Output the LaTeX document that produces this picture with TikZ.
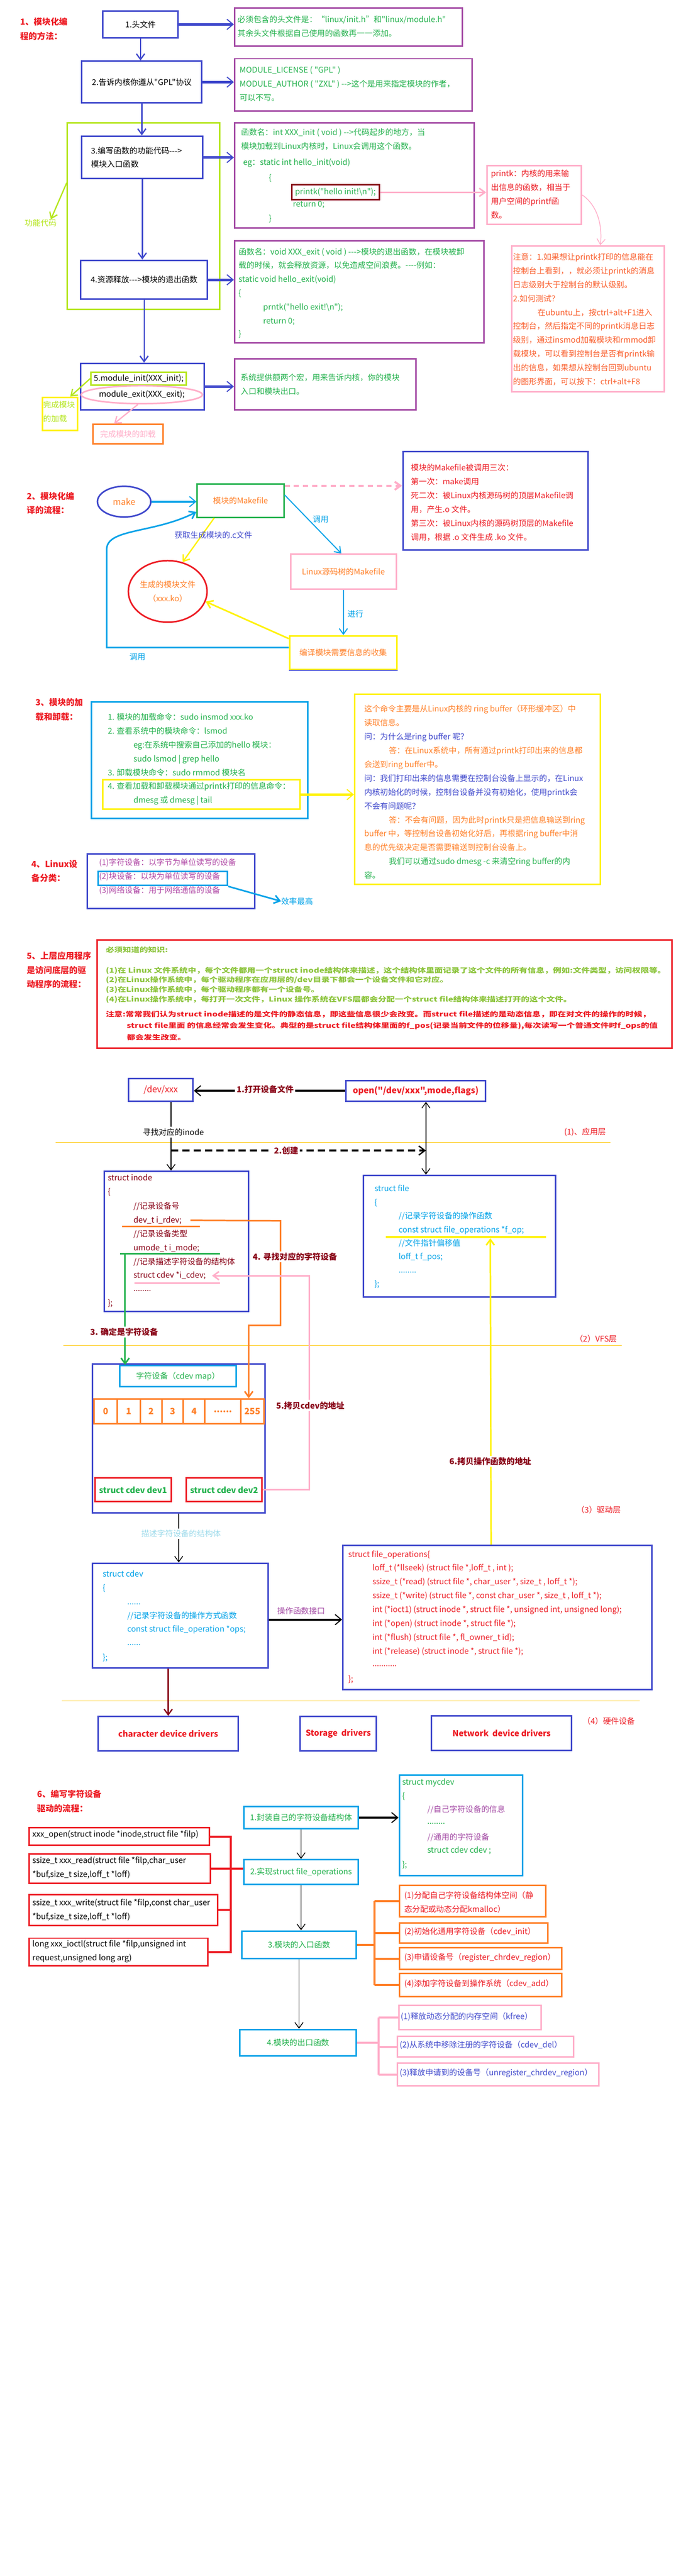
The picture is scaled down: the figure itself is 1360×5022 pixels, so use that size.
\documentclass[tikz,border=0pt]{standalone}
\usepackage{fontspec}
\setmainfont{Noto Sans CJK SC}[Ligatures=TeXOff]
\newfontfamily\widefont{Noto Sans CJK SC}[FakeStretch=1.27,Ligatures=TeXOff]
\usepackage{tikz}
\usetikzlibrary{arrows.meta, positioning, shapes.geometric}

\definecolor{paintblue}{RGB}{63,72,204}
\definecolor{paintpurple}{RGB}{163,73,164}
\definecolor{paintgreen}{RGB}{34,177,76}
\definecolor{paintlime}{RGB}{181,230,29}
\definecolor{paintred}{RGB}{237,28,36}
\definecolor{paintdred}{RGB}{136,0,21}
\definecolor{paintpink}{RGB}{255,174,201}
\definecolor{paintorange}{RGB}{255,127,39}
\definecolor{paintyellow}{RGB}{255,242,0}
\definecolor{paintcyan}{RGB}{0,162,232}
\definecolor{paintgold}{RGB}{255,201,14}
\definecolor{paintltcyan}{RGB}{153,217,234}
\definecolor{notered}{RGB}{250,95,45}
\definecolor{olivegreen}{RGB}{140,196,60}
\definecolor{devpurple}{RGB}{175,70,165}

\newcommand\bodyfont{\fontsize{15.5pt}{27pt}\selectfont}
\newcommand\headfont{\fontsize{16.5pt}{27.5pt}\selectfont\bfseries}
\newcommand\tagfont{\fontsize{16pt}{27pt}\selectfont\bfseries}
\newcommand\knowfont{\widefont\bfseries\fontsize{13pt}{19pt}\selectfont}
\newcommand\dotsix{......}

\tikzset{
        >={Straight Barb[length=11pt,width=16pt]}, % open V heads like the sketch
        heading/.style={txt, text=paintred, font=\headfont}, % section titles on the left
        steptag/.style={fill=white, inner sep=3pt, text=paintdred, font=\tagfont}, % labels that cut a line
        flow/.style={->, paintblue, line width=2.5pt}, % vertical steps of part 1
        push/.style={-{Straight Barb[length=12pt,width=20pt,line width=2pt]}, line width=5pt}, % fat arrows
        layerline/.style={paintgold, line width=1.5pt}, % borders between the layers
    }
\tikzstyle{boxframe}=[draw,rectangle,line width=3pt,inner sep=0pt,anchor=north west]
\tikzstyle{txt}=[inner sep=0pt,anchor=west,align=left]

\begin{document}
\begin{tikzpicture}[x=1pt,y=-1pt,font=\bodyfont]
    \useasboundingbox (0,0) rectangle (1360,5022);
    \fill[white] (0,0) rectangle (1360,5022);

    \node[heading] (t1) at (39,56.5) {1、模块化编\\程的方法：};
    \node[boxframe, draw=paintblue, minimum width=147pt, minimum height=52pt] (head) at (199,20) {1.头文件};
    \node[boxframe, draw=paintpurple, minimum width=444pt, minimum height=74pt] (headnote) at (456,14) {};
    \node[txt, text=paintgreen] (headtext) at (463,51.5) {必须包含的头文件是：“linux/init.h”和"linux/module.h"\\其余头文件根据自己使用的函数再一一添加。};
    \node[boxframe, draw=paintblue, minimum width=234pt, minimum height=81pt] (gpl) at (158,118) {2.告诉内核你遵从"GPL"协议};
    \node[boxframe, draw=paintpurple, minimum width=463pt, minimum height=102pt] (gplnote) at (456,113) {};
    \node[txt, text=paintgreen] (gpltext) at (467,163.5) {MODULE\_LICENSE ( "GPL" )\\MODULE\_AUTHOR ( "ZXL" ) -->这个是用来指定模块的作者，\\可以不写。};
    \node[boxframe, draw=paintlime, minimum width=297pt, minimum height=364pt] (funcarea) at (130,238) {};
    \node[boxframe, draw=paintblue, minimum width=236pt, minimum height=83pt, text width=200pt, align=left] (init) at (158,264) {3.编写函数的功能代码--->\\模块入口函数};
    \node[boxframe, draw=paintpurple, minimum width=467pt, minimum height=205pt] (initnote) at (456,238) {};
    \node[txt, text=paintgreen] (inittext) at (470,271.5) {函数名：int  XXX\_init ( void ) -->代码起步的地方，当\\模块加载到Linux内核时，Linux会调用这个函数。};
    \node[txt, text=paintgreen] (initeg) at (474,318) {eg：static int hello\_init(void)};
    \node[txt, text=paintgreen] (initopen) at (524,347) {\{};
    \node[boxframe, draw=paintdred, minimum width=171pt, minimum height=29pt, text=paintgreen] (printk) at (567,359) {printk("hello init!\textbackslash n");};
    \node[txt, text=paintgreen] (initret) at (571,399) {return  0;};
    \node[txt, text=paintgreen] (initclose) at (524,427) {\}};
    \node[boxframe, draw=paintpink, minimum width=184pt, minimum height=115pt] (printknote) at (948,321) {};
    \node[txt, text=paintred] (printktext) at (957,378.5) {printk：内核的用来输\\出信息的函数，相当于\\用户空间的printf函\\数。};
    \node[txt, text=paintlime] (funclabel) at (48,435) {功能代码};
    \node[boxframe, draw=paintblue, minimum width=247pt, minimum height=76pt] (release) at (156,506) {4.资源释放--->模块的退出函数};
    \node[boxframe, draw=paintpurple, minimum width=486pt, minimum height=199pt] (exitnote) at (456,468) {};
    \node[txt, text=paintgreen] (exittext) at (465,504) {函数名：void XXX\_exit ( void ) --->模块的退出函数，在模块被卸\\载的时候，就会释放资源，以免造成空间浪费。----例如：};
    \node[txt, text=paintgreen] (exiteg) at (465,558) {static void hello\_exit(void)\\\{};
    \node[txt, text=paintgreen] (exitbody) at (513,612.5) {prntk("hello exit!\textbackslash n");\\return 0;};
    \node[txt, text=paintgreen] (exitclose) at (465,652) {\}};
    \node[boxframe, draw=paintpink, minimum width=298pt, minimum height=284pt] (consnote) at (996,478) {};
    \node[txt, text=notered] (constext) at (1000,622.5) {注意：1.如果想让printk打印的信息能在\\控制台上看到，，就必须让printk的消息\\日志级别大于控制台的默认级别。\\2.如何测试？\\\hspace*{48pt}在ubuntu上，按ctrl+alt+F1进入\\控制台，然后指定不同的printk消息日志\\级别，通过insmod加载模块和rmmod卸\\载模块，可以看到控制台是否有printk输\\出的信息，如果想从控制台回到ubuntu\\的图形界面，可以按下：ctrl+alt+F8};
    \node[boxframe, draw=paintblue, minimum width=241pt, minimum height=90pt] (macros) at (156,707) {};
    \node[boxframe, draw=paintlime, minimum width=186pt, minimum height=25pt] (initmacro) at (176,724) {5.module\_init(XXX\_init);};
    \node[ellipse, draw=paintpink, line width=3pt, inner sep=0pt, minimum width=201pt, minimum height=35pt] (exitmacro) at (276.5,769.5) {module\_exit(XXX\_exit);};
    \node[boxframe, draw=paintpurple, minimum width=354pt, minimum height=99pt] (macronote) at (456,698) {};
    \node[txt, text=paintgreen] (macrotext) at (469,749) {系统提供额两个宏，用来告诉内核，你的模块\\入口和模块出口。};
    \node[boxframe, draw=paintyellow, minimum width=69pt, minimum height=65pt] (loaded) at (81,773) {};
    \node[txt, text=paintlime] (loadedtext) at (84,802.5) {完成模块\\的加载};
    \node[boxframe, draw=paintorange, minimum width=136pt, minimum height=38pt, text=paintpink] (unloaded) at (180,826) {完成模块的卸载};

    \draw[flow] (head.south) -- (head.south |- gpl.north);
    \draw[flow] (gpl.south) -- (gpl.south |- init.north);
    \draw[flow] (init.south) -- (init.south |- release.north);
    \draw[flow] (release.south) -- (release.south |- macros.north);
    \draw[push, paintblue] (head.east) -- (head.east -| headnote.west);
    \draw[push, paintblue] (gpl.east) -- (gpl.east -| gplnote.west);
    \draw[push, paintblue] (init.east) -- (init.east -| initnote.west);
    \draw[push, paintblue] (release.east) -- (release.east -| exitnote.west);
    \draw[push, paintblue] (macros.east) -- (macros.east -| macronote.west);
    \draw[->, paintpink, line width=3pt] (printk.east) -- (printk.east -| printknote.west);
    \draw[->, paintpink, line width=1.5pt] (printknote.east) .. controls (1165,400) and (1175,440) .. ([xshift=24pt]consnote.north);
    \draw[->, paintlime, line width=2.5pt] ([yshift=65pt]funcarea.west) -- ([xshift=20pt]funclabel.north);
    \draw[->, paintlime, line width=2.5pt] (initmacro.west) -- ([xshift=20pt]loaded.north);
    \draw[->, paintpink, line width=2.5pt] (exitmacro.-112) -- ([xshift=-27pt]unloaded.north);

    \node[heading] (t2) at (52,981) {2、模块化编\\译的流程：};
    \node[ellipse, draw=paintblue, line width=3pt, minimum width=104pt, minimum height=60pt, text=paintorange, font=\fontsize{17pt}{20pt}\selectfont] (make) at (242,978) {make};
    \node[boxframe, draw=paintgreen, minimum width=169pt, minimum height=65pt, text=paintorange] (modmk) at (383,942) {模块的Makefile};
    \node[boxframe, draw=paintblue, minimum width=361pt, minimum height=192pt] (callnote) at (784,879) {};
    \node[txt, text=paintred] (calltext) at (801,979.5) {模块的Makefile被调用三次：\\第一次：make调用\\死二次：被Linux内核源码树的顶层Makefile调\\用，产生.o 文件。\\第三次：被Linux内核的源码树顶层的Makefile\\调用，根据 .o 文件生成 .ko 文件。};
    \node[boxframe, draw=paintpink, minimum width=206pt, minimum height=68pt, text=paintorange] (linuxmk) at (565,1079) {Linux源码树的Makefile};
    \node[boxframe, draw=paintyellow, minimum width=209pt, minimum height=66pt, text=paintorange] (collect) at (563,1238) {编译模块需要信息的收集};
    \node[ellipse, draw=paintred, line width=3pt, inner sep=0pt, minimum width=134pt, minimum height=120pt, text=paintorange, align=center] (ko) at (327,1153) {生成的模块文件\\（xxx.ko）};
    \node[text=paintcyan] (call1) at (625,1012) {调用};
    \node[text=paintcyan] (run) at (693,1197) {进行};
    \node[text=paintcyan] (call2) at (268,1280) {调用};

    \draw[push, paintcyan, line width=4pt] (make.east) -- (make.east -| modmk.west);
    \draw[->, paintpink, line width=4pt, dash pattern=on 10pt off 8pt] ([yshift=-5pt]modmk.north east) -- ([yshift=-5pt]modmk.north east -| callnote.west);
    \draw[->, paintcyan, line width=2pt] ([yshift=11pt]modmk.east) -- ([xshift=-4pt]linuxmk.north);
    \draw[->, paintcyan, line width=2pt] (linuxmk.south) -- (linuxmk.south |- collect.north);
    \draw[paintblue, line width=2pt] (collect.south west) -- (collect.south east);
    \draw[->, paintyellow, line width=3pt] ([yshift=-7pt]collect.north west) -- (ko.-15);
    \draw[->, paintyellow, line width=2.5pt] ([xshift=-51.5pt]modmk.south) -- (ko.63);
    \draw[->, paintcyan, line width=3pt] ([yshift=10pt]collect.west) -- ++(-355,0) -- (208,1070) .. controls (210,1030) and (300,1040) .. ([yshift=-22pt]modmk.west);
    \node[text=paintblue] (getc) at (416,1043) {获取生成模块的.c文件};

    \node[heading] (t3) at (69,1383.5) {3、模块的加\\载和卸载：};
    \node[boxframe, draw=paintcyan, minimum width=422pt, minimum height=227pt] (cmdbox) at (177,1367) {};
    \node[txt, text=paintgreen] (cmdtext) at (210,1452) {1. 模块的加载命令：sudo  insmod xxx.ko\\2. 查看系统中的模块命令：lsmod\\\hspace*{50pt}eg:在系统中搜索自己添加的hello 模块：\\\hspace*{50pt}sudo lsmod | grep hello\\3. 卸载模块命令：sudo rmmod 模块名};
    \node[boxframe, draw=paintyellow, minimum width=385pt, minimum height=57pt] (dmesgbox) at (199,1519) {};
    \node[txt, text=paintgreen] (dmesgtext) at (210,1547.5) {4. 查看加载和卸载模块通过printk打印的信息命令：\\\hspace*{50pt}dmesg 或 dmesg | tail};
    \node[boxframe, draw=paintyellow, minimum width=479pt, minimum height=371pt] (ringnote) at (690,1352) {};
    \node[txt] (ringtext) at (710,1544) {\textcolor{paintorange}{这个命令主要是从Linux内核的 ring buffer（环形缓冲区）中}\\
        \textcolor{paintorange}{读取信息。}\\
        \textcolor{paintblue}{问：为什么是ring buffer 呢？}\\
        \textcolor{paintorange}{\hspace*{48pt}答：在Linux系统中，所有通过printk打印出来的信息都}\\
        \textcolor{paintorange}{会送到ring buffer中。}\\
        \textcolor{paintblue}{问：我们打印出来的信息需要在控制台设备上显示的，在Linux}\\
        \textcolor{paintblue}{内核初始化的时候，控制台设备并没有初始化，使用printk会}\\
        \textcolor{paintblue}{不会有问题呢？}\\
        \textcolor{paintorange}{\hspace*{48pt}答：不会有问题，因为此时printk只是把信息输送到ring}\\
        \textcolor{paintorange}{buffer 中，等控制台设备初始化好后，再根据ring buffer中消}\\
        \textcolor{paintorange}{息的优先级决定是否需要输送到控制台设备上。}\\
        \textcolor{paintgreen}{\hspace*{48pt}我们可以通过sudo  dmesg -c 来清空ring buffer的内}\\
        \textcolor{paintgreen}{容。}};
    \draw[push, paintyellow] (dmesgbox.east) -- (dmesgbox.east -| ringnote.west);

    \node[heading] (t4) at (61,1698) {4、Linux设\\备分类：};
    \node[boxframe, draw=paintblue, minimum width=326pt, minimum height=107pt] (devbox) at (169,1663) {};
    \node[txt, text=devpurple] (devtext) at (193,1709) {(1)字符设备：以字节为单位读写的设备\\(2)块设备：以块为单位读写的设备\\(3)网络设备：用于网络通信的设备};
    \node[boxframe, draw=paintcyan, minimum width=252pt, minimum height=28pt] (blockbox) at (190,1697) {};
    \node[txt, text=paintcyan] (fast) at (548,1757) {效率最高};
    \draw[->, paintcyan, line width=3pt] (blockbox.south east) -- (fast.west);

    \node[heading] (t5) at (52,1891) {5、上层应用程序\\是访问底层的驱\\动程序的流程：};
    \node[boxframe, draw=paintred, minimum width=1121pt, minimum height=211pt] (knowbox) at (188,1831) {};
    \node[txt, text=olivegreen, font=\knowfont] (knowhead) at (206,1852) {必须知道的知识:};
    \node[txt, text=olivegreen, font=\knowfont] (knowtext) at (206,1920.5) {(1)在 Linux 文件系统中，每个文件都用一个struct inode结构体来描述，这个结构体里面记录了这个文件的所有信息，例如:文件类型，访问权限等。\\(2)在Linux操作系统中，每个驱动程序在应用层的/dev目录下都会一个设备文件和它对应。\\(3)在Linux操作系统中，每个驱动程序都有一个设备号。\\(4)在Linux操作系统中，每打开一次文件，Linux 操作系统在VFS层都会分配一个struct  file结构体来描述打开的这个文件。};
    \node[txt, text=paintred, font=\knowfont] (knownote) at (206,1978) {注意:常常我们认为struct inode描述的是文件的静态信息，即这些信息很少会改变。而struct file描述的是动态信息，即在对文件的操作的时候，};
    \node[txt, text=paintred, font=\knowfont\setlength{\baselineskip}{23pt}] (knownote2) at (247,2010.5) {struct file里面 的信息经常会发生变化。典型的是struct file结构体里面的f\_pos(记录当前文件的位移量),每次读写一个普通文件时f\_ops的值\\都会发生改变。};

    \node[boxframe, draw=paintblue, minimum width=126pt, minimum height=44pt, text=paintred, font=\fontsize{17pt}{20pt}\selectfont] (devfile) at (249,2101) {/dev/xxx};
    \node[boxframe, draw=paintblue, minimum width=272pt, minimum height=40pt, text=paintred, font=\fontsize{16.5pt}{20pt}\selectfont\bfseries] (openbox) at (673,2105) {open("/dev/xxx",mode,flags)};
    \coordinate (inodeline) at ([xshift=20pt]devfile.south);
    \coordinate (openline) at ([xshift=20pt]openbox.south);
    \coordinate (createfork) at (inodeline |- 0,2243);
    \node[boxframe, draw=paintblue, minimum width=281pt, minimum height=273pt] (inode) at (202,2282) {};
    \node[boxframe, draw=paintblue, minimum width=375pt, minimum height=237pt] (filebox) at (707,2290) {};
    \draw[layerline] (108,2227) -- (1190,2227);
    \node[txt, text=paintred] (applayer) at (1100,2207) {(1)、应用层};

    \node[txt, text=paintdred] (inodehead) at (210,2310.5) {struct  inode\\\{};
    \node[txt, text=paintdred] (rdevnote) at (260,2352) {//记录设备号};
    \node[txt, text=paintdred] (rdev) at (260,2379) {dev\_t  i\_rdev;};
    \node[txt, text=paintdred] (modenote) at (260,2406) {//记录设备类型};
    \node[txt, text=paintdred] (imode) at (260,2433) {umode\_t  i\_mode;};
    \node[txt, text=paintdred] (cdevnote) at (260,2460) {//记录描述字符设备的结构体};
    \node[txt, text=paintdred] (icdev) at (260,2487) {struct  cdev  *i\_cdev;};
    \node[txt, text=paintdred] (inodemore) at (260,2517) {........};
    \node[txt, text=paintdred] (inodeend) at (210,2541) {\};};
    \draw[paintorange, line width=3pt] (238,2391) -- (390,2391);
    \draw[paintgreen, line width=3pt] (234,2444) -- (429,2444);
    \draw[paintpink, line width=3pt] (262,2501) -- (429,2501);
    \coordinate (modeline) at (244,2444);

    \node[txt, text=paintcyan] (filehead) at (730,2331) {struct  file\\\{};
    \node[txt, text=paintcyan] (fopnote) at (777,2371) {//记录字符设备的操作函数};
    \node[txt, text=paintcyan] (fop) at (777,2398) {const  struct  file\_operations  *f\_op;};
    \node[txt, text=paintcyan] (posnote) at (777,2424) {//文件指针偏移值};
    \node[txt, text=paintcyan] (fpos) at (777,2451) {loff\_t    f\_pos;};
    \node[txt, text=paintcyan] (filemore) at (777,2480) {........};
    \node[txt, text=paintcyan] (fileend) at (730,2504) {\};};
    \draw[paintyellow, line width=4pt] (752,2412) -- (1065,2412);
    \coordinate (fopunder) at (956,2414);

    \draw[layerline] (124,2623) -- (1212,2623);
    \node[txt, text=paintred] (vfslayer) at (1121,2610) {（2）VFS层};
    \node[boxframe, draw=paintblue, minimum width=336pt, minimum height=290pt] (charbox) at (179,2658) {};
    \node[boxframe, draw=paintcyan, minimum width=227pt, minimum height=41pt, text=paintgreen] (cdevmap) at (232,2661) {字符设备（cdev  map）};
    \foreach \x/\w/\lab/\nm in {182/45/0/cell0, 227/45/1/cell1, 272/42/2/cell2, 314/42/3/cell3, 356/42/4/cell4, 398/70/\dotsix/cell5, 468/45/255/cell255}
        \node[boxframe, draw=paintorange, minimum width=\w, minimum height=48pt, text=paintorange, font=\fontsize{17pt}{20pt}\selectfont\bfseries] (\nm) at (\x,2726) {\lab};
    \node[boxframe, draw=paintred, minimum width=148pt, minimum height=46pt, text=paintgreen, font=\fontsize{16pt}{20pt}\selectfont\bfseries] (dev1) at (184,2880) {struct cdev dev1};
    \node[boxframe, draw=paintred, minimum width=147pt, minimum height=46pt, text=paintgreen, font=\fontsize{16pt}{20pt}\selectfont\bfseries] (dev2) at (362,2880) {struct cdev dev2};
    \node[txt, text=paintred] (drvlayer) at (1124,2943) {（3）驱动层};

    \node[boxframe, draw=paintblue, minimum width=342pt, minimum height=204pt] (cdevbox) at (179,3046) {};
    \node[txt, text=paintcyan] (cdevhead) at (200,3083) {struct cdev\\\{};
    \node[txt, text=paintcyan] (cdevmore1) at (248,3127) {......};
    \node[txt, text=paintcyan] (opsnote) at (248,3163.5) {//记录字符设备的操作方式函数\\const struct file\_operation  *ops;};
    \node[txt, text=paintcyan] (cdevmore2) at (248,3207) {......};
    \node[txt, text=paintcyan] (cdevend) at (200,3232) {\};};
    \node[boxframe, draw=paintblue, minimum width=603pt, minimum height=281pt] (fops) at (667,3011) {};
    \node[txt, text=paintred] (fopshead) at (679,3031) {struct file\_operations\{};
    \node[txt, text=paintred] (fopsbody) at (726,3138.5) {loff\_t (*llseek)  (struct  file *,loff\_t ,  int );\\ssize\_t (*read)  (struct file *, char\_user *, size\_t , loff\_t *);\\ssize\_t (*write)  (struct file *, const char\_user *, size\_t , loff\_t *);\\int (*ioct1)  (struct inode *, struct file *, unsigned int, unsigned long);\\int (*open)  (struct inode *, struct file *);\\int (*flush)  (struct file *, fl\_owner\_t  id);\\int (*release)  (struct inode *, struct file *);};
    \node[txt, text=paintred] (fopsmore) at (726,3248) {...........};
    \node[txt, text=paintred] (fopsend) at (679,3274) {\};};
    \draw[layerline] (121,3316) -- (1247,3316);
    \node[boxframe, draw=paintblue, minimum width=273pt, minimum height=67pt, text=paintred, font=\fontsize{16pt}{20pt}\selectfont\bfseries] (chardrv) at (190,3345) {character device drivers};
    \node[boxframe, draw=paintblue, minimum width=148pt, minimum height=67pt, text=paintred, font=\fontsize{16pt}{20pt}\selectfont\bfseries] (stordrv) at (584,3345) {Storage~ drivers};
    \node[boxframe, draw=paintblue, minimum width=273pt, minimum height=67pt, text=paintred, font=\fontsize{16pt}{20pt}\selectfont\bfseries] (netdrv) at (840,3344) {Network~ device drivers};
    \node[txt, text=paintred] (hwlayer) at (1136,3355) {（4）硬件设备};

    \draw[push, black, line width=4pt] (openbox.west) -- (openbox.west -| devfile.east);
    \draw[->, line width=1.5pt] (inodeline) -- (inodeline |- inode.north);
    \draw[-{Straight Barb[length=12pt,width=18pt,line width=2.5pt]}, line width=4pt, dash pattern=on 14pt off 8pt] (createfork) -- (createfork -| openline);
    \draw[<->, line width=1.5pt] (openline) -- (openline |- filebox.north);
    \draw[->, paintorange, line width=3pt] ([xshift=17pt]rdev.east) -- (547,2380) -- (547,2584) -| ([xshift=-7pt]cell255.north);
    \draw[->, paintgreen, line width=3pt] (modeline) -- (modeline |- cdevmap.north);
    \draw[->, paintpink, line width=3pt] (dev2.east) -- ++(91,0) |- ([xshift=12pt]icdev.east);
    \draw[->, paintyellow, line width=3pt] ([xshift=-12.5pt]fops.north) -- (fopunder);
    \draw[->, line width=1.5pt] (charbox.south) -- (charbox.south |- cdevbox.north);
    \draw[push, black, line width=4pt] ([yshift=-8pt]cdevbox.east) -- ([yshift=-8pt]cdevbox.east -| fops.west);
    \draw[->, paintdred, line width=2.5pt] (chardrv.north |- cdevbox.south) -- (chardrv.north);
    \node[steptag] (step1) at (517,2124) {1.打开设备文件};
    \node[fill=white, inner sep=3pt] (findinode) at (338,2207) {寻找对应的inode};
    \node[steptag] (step2) at (558,2243) {2.创建};
    \node[steptag] (step3) at (242,2597) {3. 确定是字符设备};
    \node[steptag] (step4) at (575,2450) {4. 寻找对应的字符设备};
    \node[steptag] (step5) at (605,2740) {5.拷贝cdev的地址};
    \node[steptag] (step6) at (956,2849) {6.拷贝操作函数的地址};
    \node[fill=white, inner sep=3pt, text=paintltcyan] (descr) at (353,2990) {描述字符设备的结构体};
    \node[text=paintpurple] (opsif) at (587,3140) {操作函数接口};

    \node[heading] (t6) at (72,3511.5) {6、编写字符设备\\驱动的流程：};
    \node[boxframe, draw=paintcyan, minimum width=223pt, minimum height=44pt, text=paintgreen] (wrap) at (474,3520) {1.封装自己的字符设备结构体};
    \node[boxframe, draw=paintcyan, minimum width=240pt, minimum height=196pt] (mycdev) at (777,3459) {};
    \node[txt, text=paintgreen] (myhead) at (784,3488) {struct  mycdev\\\{};
    \node[txt, text=paintpurple] (ownnote) at (833,3528) {//自己字符设备的信息};
    \node[txt, text=paintgreen] (ownmore) at (833,3555) {........};
    \node[txt, text=paintpurple] (commonnote) at (833,3582) {//通用的字符设备};
    \node[txt, text=paintgreen] (commoncdev) at (833,3608) {struct  cdev  cdev ;};
    \node[txt, text=paintgreen] (myend) at (784,3636) {\};};
    \node[boxframe, draw=paintcyan, minimum width=223pt, minimum height=48pt, text=paintgreen] (impl) at (474,3624) {2.实现struct file\_operations};
    \node[boxframe, draw=paintcyan, minimum width=223pt, minimum height=54pt, text=paintgreen] (entry) at (470,3763) {3.模块的入口函数};
    \node[boxframe, draw=paintcyan, minimum width=227pt, minimum height=52pt, text=paintgreen] (exitfn) at (466,3955) {4.模块的出口函数};
    \node[boxframe, draw=paintred, minimum width=352pt, minimum height=34pt] (openfn) at (55,3562) {};
    \node[txt] (opentext) at (63,3577) {xxx\_open(struct inode *inode,struct file *filp)};
    \node[boxframe, draw=paintred, minimum width=354pt, minimum height=57pt] (readfn) at (55,3613) {};
    \node[txt] (readtext) at (63,3641.5) {ssize\_t xxx\_read(struct file *filp,char\_user\\*buf,size\_t size,loff\_t *loff)};
    \node[boxframe, draw=paintred, minimum width=368pt, minimum height=60pt] (writefn) at (55,3692) {};
    \node[txt] (writetext) at (63,3723.5) {ssize\_t xxx\_write(struct file *filp,const char\_user\\*buf,size\_t size,loff\_t *loff)};
    \node[boxframe, draw=paintred, minimum width=349pt, minimum height=54pt] (ioctlfn) at (55,3777) {};
    \node[txt] (ioctltext) at (63,3804) {long xxx\_ioctl(struct file *filp,unsigned int\\request,unsigned long arg)};
    \node[boxframe, draw=paintorange, minimum width=286pt, minimum height=61pt] (alloc) at (777,3674) {};
    \node[txt, text=paintred] (alloctext) at (788,3708.5) {(1)分配自己字符设备结构体空间（静\\态分配或动态分配kmalloc）};
    \node[boxframe, draw=paintorange, minimum width=290pt, minimum height=40pt] (cinit) at (777,3747) {};
    \node[txt, text=paintred] (cinittext) at (788,3766) {(2)初始化通用字符设备（cdev\_init）};
    \node[boxframe, draw=paintorange, minimum width=317pt, minimum height=42pt] (region) at (777,3796) {};
    \node[txt, text=paintred] (regiontext) at (788,3816) {(3)申请设备号（register\_chrdev\_region）};
    \node[boxframe, draw=paintorange, minimum width=317pt, minimum height=45pt] (cadd) at (777,3846) {};
    \node[txt, text=paintred] (caddtext) at (788,3867) {(4)添加字符设备到操作系统（cdev\_add）};
    \node[boxframe, draw=paintpink, minimum width=278pt, minimum height=47pt] (kfree) at (776,3908) {};
    \node[txt, text=paintblue] (kfreetext) at (781,3932) {(1)释放动态分配的内存空间（kfree）};
    \node[boxframe, draw=paintpink, minimum width=344pt, minimum height=41pt] (cdel) at (773,3968) {};
    \node[txt, text=paintblue] (cdeltext) at (779,3987) {(2)从系统中移除注册的字符设备（cdev\_del）};
    \node[boxframe, draw=paintpink, minimum width=393pt, minimum height=44pt] (unreg) at (773,4021) {};
    \node[txt, text=paintblue] (unregtext) at (779,4041) {(3)释放申请到的设备号（unregister\_chrdev\_region）};
    \coordinate (fnbus) at (450,3575);
    \coordinate (initbus) at (730,3790);
    \coordinate (exitbus) at (738,3981);

    \draw[push, black, line width=4pt] (wrap.east) -- (wrap.east -| mycdev.west);
    \draw[->, line width=1.5pt] (wrap.south) -- (wrap.south |- impl.north);
    \draw[->, line width=1.5pt] (impl.south) -- (impl.south |- entry.north);
    \draw[->, line width=1.5pt] (entry.south) -- (entry.south |- exitfn.north);
    \draw[paintred, line width=3.5pt] (openfn.east) -- (openfn.east -| fnbus) -- (ioctlfn.east -| fnbus) -- (ioctlfn.east);
    \draw[paintred, line width=3.5pt] (writefn.east) -- (writefn.east -| fnbus);
    \draw[paintred, line width=3.5pt] (readfn.east) -- (readfn.east -| impl.west);
    \draw[paintorange, line width=4pt] (entry.east) -- (entry.east -| initbus);
    \draw[paintorange, line width=4pt] (alloc.west -| initbus) -- (cadd.west -| initbus);
    \foreach \nm in {alloc, cinit, region, cadd}
        \draw[paintorange, line width=4pt] (\nm.west -| initbus) -- (\nm.west);
    \draw[paintpink, line width=4pt] (exitfn.east) -- (exitfn.east -| exitbus);
    \draw[paintpink, line width=4pt] (kfree.west -| exitbus) -- (unreg.west -| exitbus);
    \foreach \nm in {kfree, cdel, unreg}
        \draw[paintpink, line width=4pt] (\nm.west -| exitbus) -- (\nm.west);
\end{tikzpicture}
\end{document}
